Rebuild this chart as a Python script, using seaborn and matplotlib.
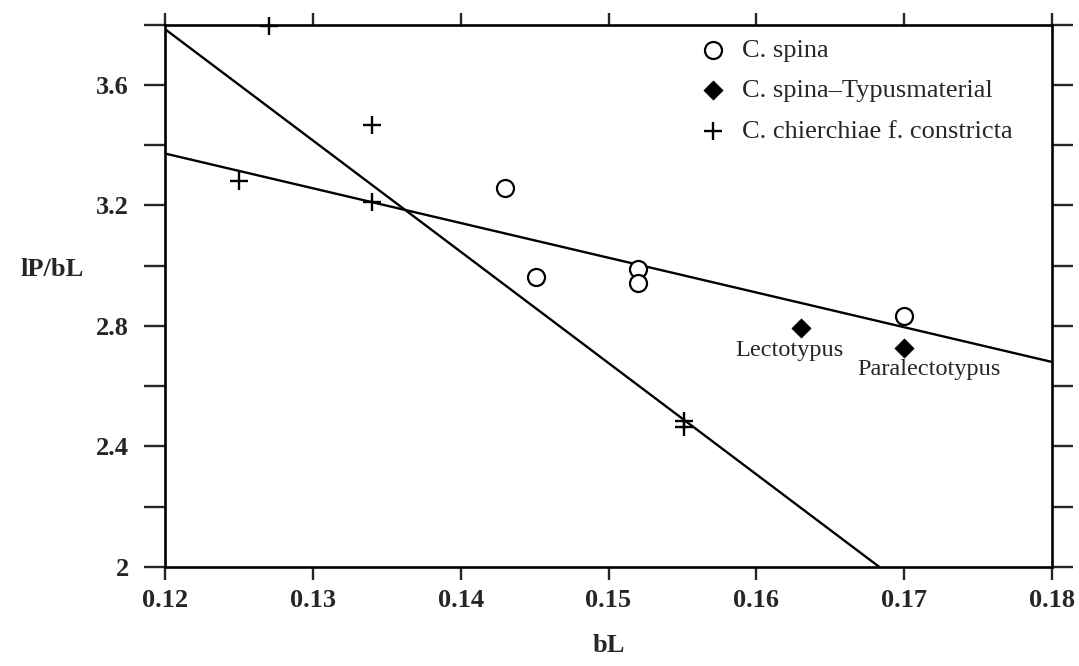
import matplotlib
matplotlib.use("Agg")
import matplotlib.pyplot as plt
import seaborn as sns
import pandas as pd
from matplotlib.ticker import FixedLocator

# ---- data ----
spina_x = [0.143, 0.1451, 0.152, 0.152, 0.170]
spina_y = [3.257, 2.962, 2.990, 2.941, 2.831]

typus_x = [0.163, 0.170]
typus_y = [2.794, 2.728]
typus_labels = ["Lectotypus", "Paralectotypus"]

constr_x = [0.127, 0.125, 0.134, 0.134, 0.1551, 0.1551]
constr_y = [3.795, 3.282, 3.467, 3.210, 2.483, 2.465]

# regression lines (end points)
line_steep_x = [0.120, 0.1683]
line_steep_y = [3.785, 2.000]
line_flat_x = [0.120, 0.180]
line_flat_y = [3.372, 2.680]

series_names = ["C. spina", "C. spina\u2013Typusmaterial", "C. chierchiae f. constricta"]
x_ticks = [0.12, 0.13, 0.14, 0.15, 0.16, 0.17, 0.18]
y_tick_labels = [2.0, 2.4, 2.8, 3.2, 3.6]

sns.set_style("ticks")
plt.rcParams["font.family"] = ["Liberation Serif", "DejaVu Serif"]
plt.rcParams["font.size"] = 18

fig = plt.figure(figsize=(10.79, 6.66), dpi=100)
ax = fig.add_axes([0.153, 0.149, 0.822, 0.814])

sns.lineplot(x=line_steep_x, y=line_steep_y, ax=ax, color="black", lw=1.7, sort=False)
sns.lineplot(x=line_flat_x, y=line_flat_y, ax=ax, color="black", lw=1.7, sort=False)

sns.scatterplot(x=spina_x, y=spina_y, ax=ax, marker="o", s=150, facecolor="white",
                edgecolor="black", linewidth=1.6, label=series_names[0], zorder=3)
sns.scatterplot(x=typus_x, y=typus_y, ax=ax, marker="D", s=95, color="black",
                edgecolor="black", linewidth=0.5, label=series_names[1], zorder=3)
sns.scatterplot(x=constr_x, y=constr_y, ax=ax, marker="+", s=170, color="black",
                linewidth=1.7, label=series_names[2], zorder=3, clip_on=False)

offsets = [(-8.5, -16.5), (17.5, -16)]
for x, y, t, off in zip(typus_x, typus_y, typus_labels, offsets):
    ax.annotate(t, (x, y), xytext=off, textcoords="offset points",
                ha="center", va="center", fontsize=17.5)

ax.set_xlim(0.12, 0.18)
ax.set_ylim(2.0, 3.8)
ax.xaxis.set_major_locator(FixedLocator(x_ticks))
ax.set_xticklabels([f"{v:g}" for v in x_ticks], fontweight="bold")
yt = [round(2.0 + 0.2 * i, 1) for i in range(10)]
ax.set_yticks(yt)
ax.set_yticklabels([f"{v:g}" if v in y_tick_labels else "" for v in yt], fontweight="bold")

ax.tick_params(axis="x", direction="out", length=9, width=1.7, top=True, labeltop=False,
               labelsize=19, pad=7)
ax.tick_params(axis="y", direction="out", length=15, width=1.7, right=True, labelright=False,
               labelsize=19, pad=11)
for sp in ax.spines.values():
    sp.set_visible(True)
    sp.set_linewidth(1.9)
    sp.set_color("black")

ax.set_xlabel("bL", fontsize=19, fontweight="bold", labelpad=16)
ax.set_ylabel("lP/bL", fontsize=19, fontweight="bold", rotation=0, ha="center", va="center")
ax.yaxis.set_label_coords(-0.127, 0.548)

leg = ax.legend(loc="upper left", bbox_to_anchor=(0.603, 0.975), frameon=False,
                handlelength=1.0, handletextpad=0.6, borderpad=0, borderaxespad=0,
                labelspacing=0.65, fontsize=19)

fig.savefig("out.png", dpi=100)
